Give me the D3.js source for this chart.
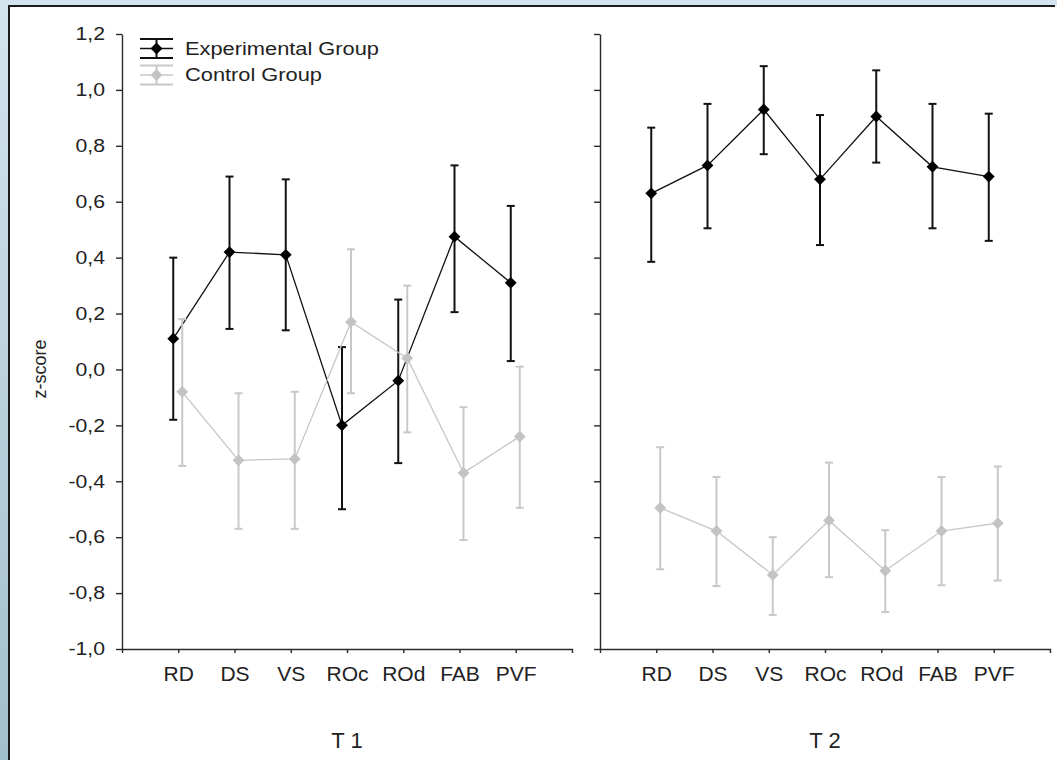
<!DOCTYPE html>
<html>
<head>
<meta charset="utf-8">
<script src="https://cdn.jsdelivr.net/npm/d3@7"></script>
<style>
  html, body { margin: 0; padding: 0; background: #fff; }
  svg { display: block; }
  text { font-family: "Liberation Sans", Arial, sans-serif; fill: #222; }
  .sx-end { transform-box: fill-box; transform-origin: right center; transform: scaleX(1.18); }
  .sx-start { transform-box: fill-box; transform-origin: left center; transform: scaleX(1.18); }
</style>
</head>
<body>
<svg id="chart" width="1057" height="760"></svg>
<script>
// ---------------- data ----------------
const categories = ["RD", "DS", "VS", "ROc", "ROd", "FAB", "PVF"];
const panelLabels = ["T 1", "T 2"];
const yTickValues = [-1.0, -0.8, -0.6, -0.4, -0.2, 0.0, 0.2, 0.4, 0.6, 0.8, 1.0, 1.2];
const seriesNames = ["Experimental Group", "Control Group"];

// T1
const expT1Mean  = [0.11, 0.42, 0.41, -0.20, -0.04, 0.475, 0.31];
const expT1Upper = [0.40, 0.69, 0.68, 0.08, 0.25, 0.73, 0.585];
const expT1Lower = [-0.18, 0.145, 0.14, -0.50, -0.335, 0.205, 0.03];
const ctlT1Mean  = [-0.08, -0.325, -0.32, 0.17, 0.04, -0.37, -0.24];
const ctlT1Upper = [0.18, -0.085, -0.08, 0.43, 0.30, -0.135, 0.01];
const ctlT1Lower = [-0.345, -0.57, -0.57, -0.085, -0.225, -0.61, -0.495];

// T2
const expT2Mean  = [0.63, 0.73, 0.93, 0.68, 0.905, 0.725, 0.69];
const expT2Upper = [0.865, 0.95, 1.085, 0.91, 1.07, 0.95, 0.915];
const expT2Lower = [0.385, 0.505, 0.77, 0.445, 0.74, 0.505, 0.46];
const ctlT2Mean  = [-0.495, -0.578, -0.735, -0.54, -0.72, -0.578, -0.55];
const ctlT2Upper = [-0.278, -0.385, -0.60, -0.333, -0.575, -0.385, -0.347];
const ctlT2Lower = [-0.715, -0.775, -0.878, -0.743, -0.868, -0.772, -0.755];

// ---------------- layout / styles ----------------
const W = 1057, H = 760;
const svg = d3.select("#chart");

const defs = svg.append("defs");
const grad = defs.append("linearGradient").attr("id", "bg").attr("x1", 0).attr("y1", 0).attr("x2", 0).attr("y2", 1);
grad.append("stop").attr("offset", "0%").attr("stop-color", "#d3e4ee");
grad.append("stop").attr("offset", "100%").attr("stop-color", "#a2bfcd");

svg.append("rect").attr("x", 0).attr("y", 0).attr("width", W).attr("height", H).attr("fill", "url(#bg)");
svg.append("rect").attr("x", 9).attr("y", 6).attr("width", W - 9).attr("height", H - 6).attr("fill", "#fff");
svg.append("line").attr("x1", 8).attr("x2", W - 2).attr("y1", 6).attr("y2", 6).attr("stroke", "#1c1c1c").attr("stroke-width", 2);
svg.append("line").attr("x1", 9).attr("x2", 9).attr("y1", 5).attr("y2", H).attr("stroke", "#1c1c1c").attr("stroke-width", 2);

const y = d3.scaleLinear().domain([-1, 1.2]).range([649, 34]);
const fmt = v => d3.format(".1f")(v).replace("\u2212", "-").replace(".", ",");

const panels = [
  { label: panelLabels[0], x0: 122, x1: 572, showLabels: true,
    series: [
      { mean: expT1Mean, up: expT1Upper, lo: expT1Lower },
      { mean: ctlT1Mean, up: ctlT1Upper, lo: ctlT1Lower } ] },
  { label: panelLabels[1], x0: 600, x1: 1050, showLabels: false,
    series: [
      { mean: expT2Mean, up: expT2Upper, lo: expT2Lower },
      { mean: ctlT2Mean, up: ctlT2Upper, lo: ctlT2Lower } ] }
];

const styles = [
  { color: "#000", lineColor: "#111", barColor: "#111", offset: -5 },
  { color: "#c3c3c3", lineColor: "#c6c6c6", barColor: "#c8c8c8", offset: 4 }
];

const diamond = d3.symbol().type(d3.symbolSquare).size(70);

panels.forEach(p => {
  const x = d3.scaleLinear().domain([0, 8]).range([p.x0, p.x1]);
  const g = svg.append("g");

  // y axis
  const ya = g.append("g").attr("transform", `translate(${p.x0},0)`)
    .call(d3.axisLeft(y).tickValues(yTickValues).tickSize(6).tickSizeOuter(0).tickPadding(11)
      .tickFormat(p.showLabels ? fmt : () => ""));
  ya.selectAll("path, line").attr("stroke", "#2a2a2a").attr("stroke-width", 1.4);
  ya.selectAll("text").attr("font-size", 18).attr("font-family", null).attr("fill", "#222").attr("class", "sx-end");

  // x axis
  const xa = g.append("g").attr("transform", `translate(0,${y(-1)})`)
    .call(d3.axisBottom(x).tickValues(d3.range(1, 8)).tickFormat(i => categories[i - 1])
      .tickSize(4).tickSizeOuter(4).tickPadding(13));
  xa.selectAll("path, line").attr("stroke", "#2a2a2a").attr("stroke-width", 1.4);
  xa.selectAll("text").attr("font-size", 21).attr("font-family", null).attr("fill", "#222");

  // panel label
  g.append("text").attr("x", x(4)).attr("y", 748).attr("text-anchor", "middle")
    .attr("font-size", 22).text(p.label);

  // series
  p.series.forEach((s, si) => {
    const st = styles[si];
    const px = i => x(i + 1) + st.offset;
    const sg = g.append("g");
    sg.append("path")
      .datum(s.mean)
      .attr("fill", "none").attr("stroke", st.lineColor).attr("stroke-width", 1.3)
      .attr("d", d3.line().x((d, i) => px(i)).y(d => y(d)));
    s.mean.forEach((m, i) => {
      const cx = px(i);
      sg.append("line").attr("x1", cx).attr("x2", cx).attr("y1", y(s.up[i])).attr("y2", y(s.lo[i]))
        .attr("stroke", st.barColor).attr("stroke-width", 2);
      [s.up[i], s.lo[i]].forEach(v => {
        sg.append("line").attr("x1", cx - 4).attr("x2", cx + 4).attr("y1", y(v)).attr("y2", y(v))
          .attr("stroke", st.barColor).attr("stroke-width", 2);
      });
      sg.append("path").attr("d", diamond)
        .attr("transform", `translate(${cx},${y(m)}) rotate(45)`)
        .attr("fill", st.color);
    });
  });
});

// y-axis title
svg.append("text").attr("transform", `translate(46,369) rotate(-90)`)
  .attr("text-anchor", "middle").attr("font-size", 18).text("z-score");

// legend
const legY = [48.5, 75];
seriesNames.forEach((name, i) => {
  const st = styles[i];
  const cy = legY[i];
  const lg = svg.append("g");
  const lx0 = 140, lx1 = 173, lcx = 156.5;
  [cy - 9.5, cy, cy + 9.5].forEach(yy => {
    lg.append("line").attr("x1", lx0).attr("x2", lx1).attr("y1", yy).attr("y2", yy)
      .attr("stroke", st.barColor).attr("stroke-width", yy === cy ? 1.3 : 2);
  });
  lg.append("line").attr("x1", lcx).attr("x2", lcx).attr("y1", cy - 9.5).attr("y2", cy + 9.5)
    .attr("stroke", st.barColor).attr("stroke-width", 2);
  lg.append("path").attr("d", diamond).attr("transform", `translate(${lcx},${cy}) rotate(45)`).attr("fill", st.color);
  lg.append("text").attr("x", 185).attr("y", cy + 6.5).attr("font-size", 18.5)
    .attr("class", "sx-start").text(name);
});
</script>
</body>
</html>
